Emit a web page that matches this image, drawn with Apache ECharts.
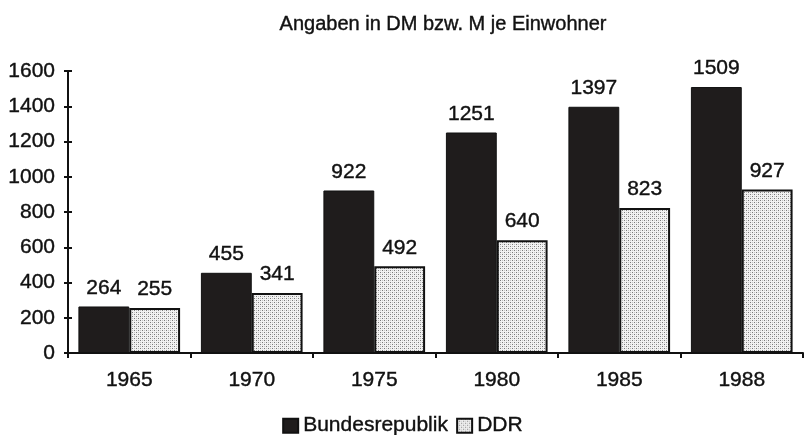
<!DOCTYPE html>
<html>
<head>
<meta charset="utf-8">
<script src="https://cdn.jsdelivr.net/npm/echarts@6/dist/echarts.min.js"></script>
<style>html,body{margin:0;padding:0;background:#fff}#c{width:805px;height:435px}</style>
</head>
<body>
<div id="c"></div>
<script>
const categories = ['1965', '1970', '1975', '1980', '1985', '1988'];
const bundesrepublik = [264, 455, 922, 1251, 1397, 1509];
const ddr = [255, 341, 492, 640, 823, 927];
const yTicks = [0, 200, 400, 600, 800, 1000, 1200, 1400, 1600];

function dotPattern() {
  const c = document.createElement('canvas');
  c.width = 4; c.height = 4;
  const g = c.getContext('2d');
  g.fillStyle = '#f2f2f2'; g.fillRect(0, 0, 4, 4);
  g.fillStyle = '#7a7a7a';
  [[0,0],[2,2]].forEach(p => g.fillRect(p[0], p[1], 1, 1));
  g.fillStyle = '#c4c4c4';
  [[2,0],[0,2]].forEach(p => g.fillRect(p[0], p[1], 1, 1));
  return c;
}

const font = '"Liberation Sans", Arial, sans-serif';
const fs = 21;
const heavy = {textBorderColor: '#111', textBorderWidth: 0.4};
const chart = echarts.init(document.getElementById('c'), null, {renderer: 'canvas'});
chart.setOption({
  animation: false,
  backgroundColor: '#fff',
  textStyle: {fontFamily: font, color: '#111'},
  title: {
    text: 'Angaben in DM bzw. M je Einwohner',
    left: 438, top: 9, textAlign: 'center',
    textStyle: Object.assign({fontFamily: font, fontSize: 20, fontWeight: 'normal', color: '#111'}, heavy)
  },
  legend: {
    left: 'center', top: 410,
    icon: 'rect',
    itemWidth: 15, itemHeight: 14, itemGap: 8,
    textStyle: Object.assign({fontFamily: font, fontSize: fs, color: '#111'}, heavy),
    data: ['Bundesrepublik', 'DDR']
  },
  grid: {left: 68, right: 2, top: 71, bottom: 82, containLabel: false},
  xAxis: {
    type: 'category',
    data: categories,
    axisLine: {lineStyle: {color: '#111', width: 2}},
    axisTick: {show: true, length: 5, lineStyle: {color: '#111', width: 2}},
    axisLabel: Object.assign({fontFamily: font, fontSize: fs, color: '#111', margin: 17}, heavy)
  },
  yAxis: [{
    type: 'value', min: 0, max: 1600, interval: 200,
    splitLine: {show: false},
    axisLine: {show: true, lineStyle: {color: '#111', width: 2}},
    axisTick: {show: true, length: 4, lineStyle: {color: '#111', width: 2}},
    axisLabel: Object.assign({fontFamily: font, fontSize: fs, color: '#111', margin: 13,
      formatter: v => yTicks.includes(v) ? String(v) : ''}, heavy)
  }, {
    type: 'value', min: 0, max: 1600, interval: 200, position: 'left',
    splitLine: {show: false},
    axisLine: {show: false},
    axisTick: {show: true, inside: true, length: 4, lineStyle: {color: '#111', width: 2}},
    axisLabel: {show: false}
  }],
  series: [{
    name: 'Bundesrepublik',
    type: 'bar',
    data: bundesrepublik,
    barGap: '0%',
    barCategoryGap: '17%',
    itemStyle: {color: '#1f1c1c', borderColor: '#111', borderWidth: 1},
    label: Object.assign({show: true, position: 'top', distance: 8, fontFamily: font, fontSize: fs, color: '#111'}, heavy)
  }, {
    name: 'DDR',
    type: 'bar',
    data: ddr,
    barGap: '0%',
    barCategoryGap: '17%',
    itemStyle: {color: {image: dotPattern(), repeat: 'repeat'}, borderColor: '#111', borderWidth: 2},
    label: Object.assign({show: true, position: 'top', distance: 8, fontFamily: font, fontSize: fs, color: '#111'}, heavy)
  }]
});
</script>
</body>
</html>
